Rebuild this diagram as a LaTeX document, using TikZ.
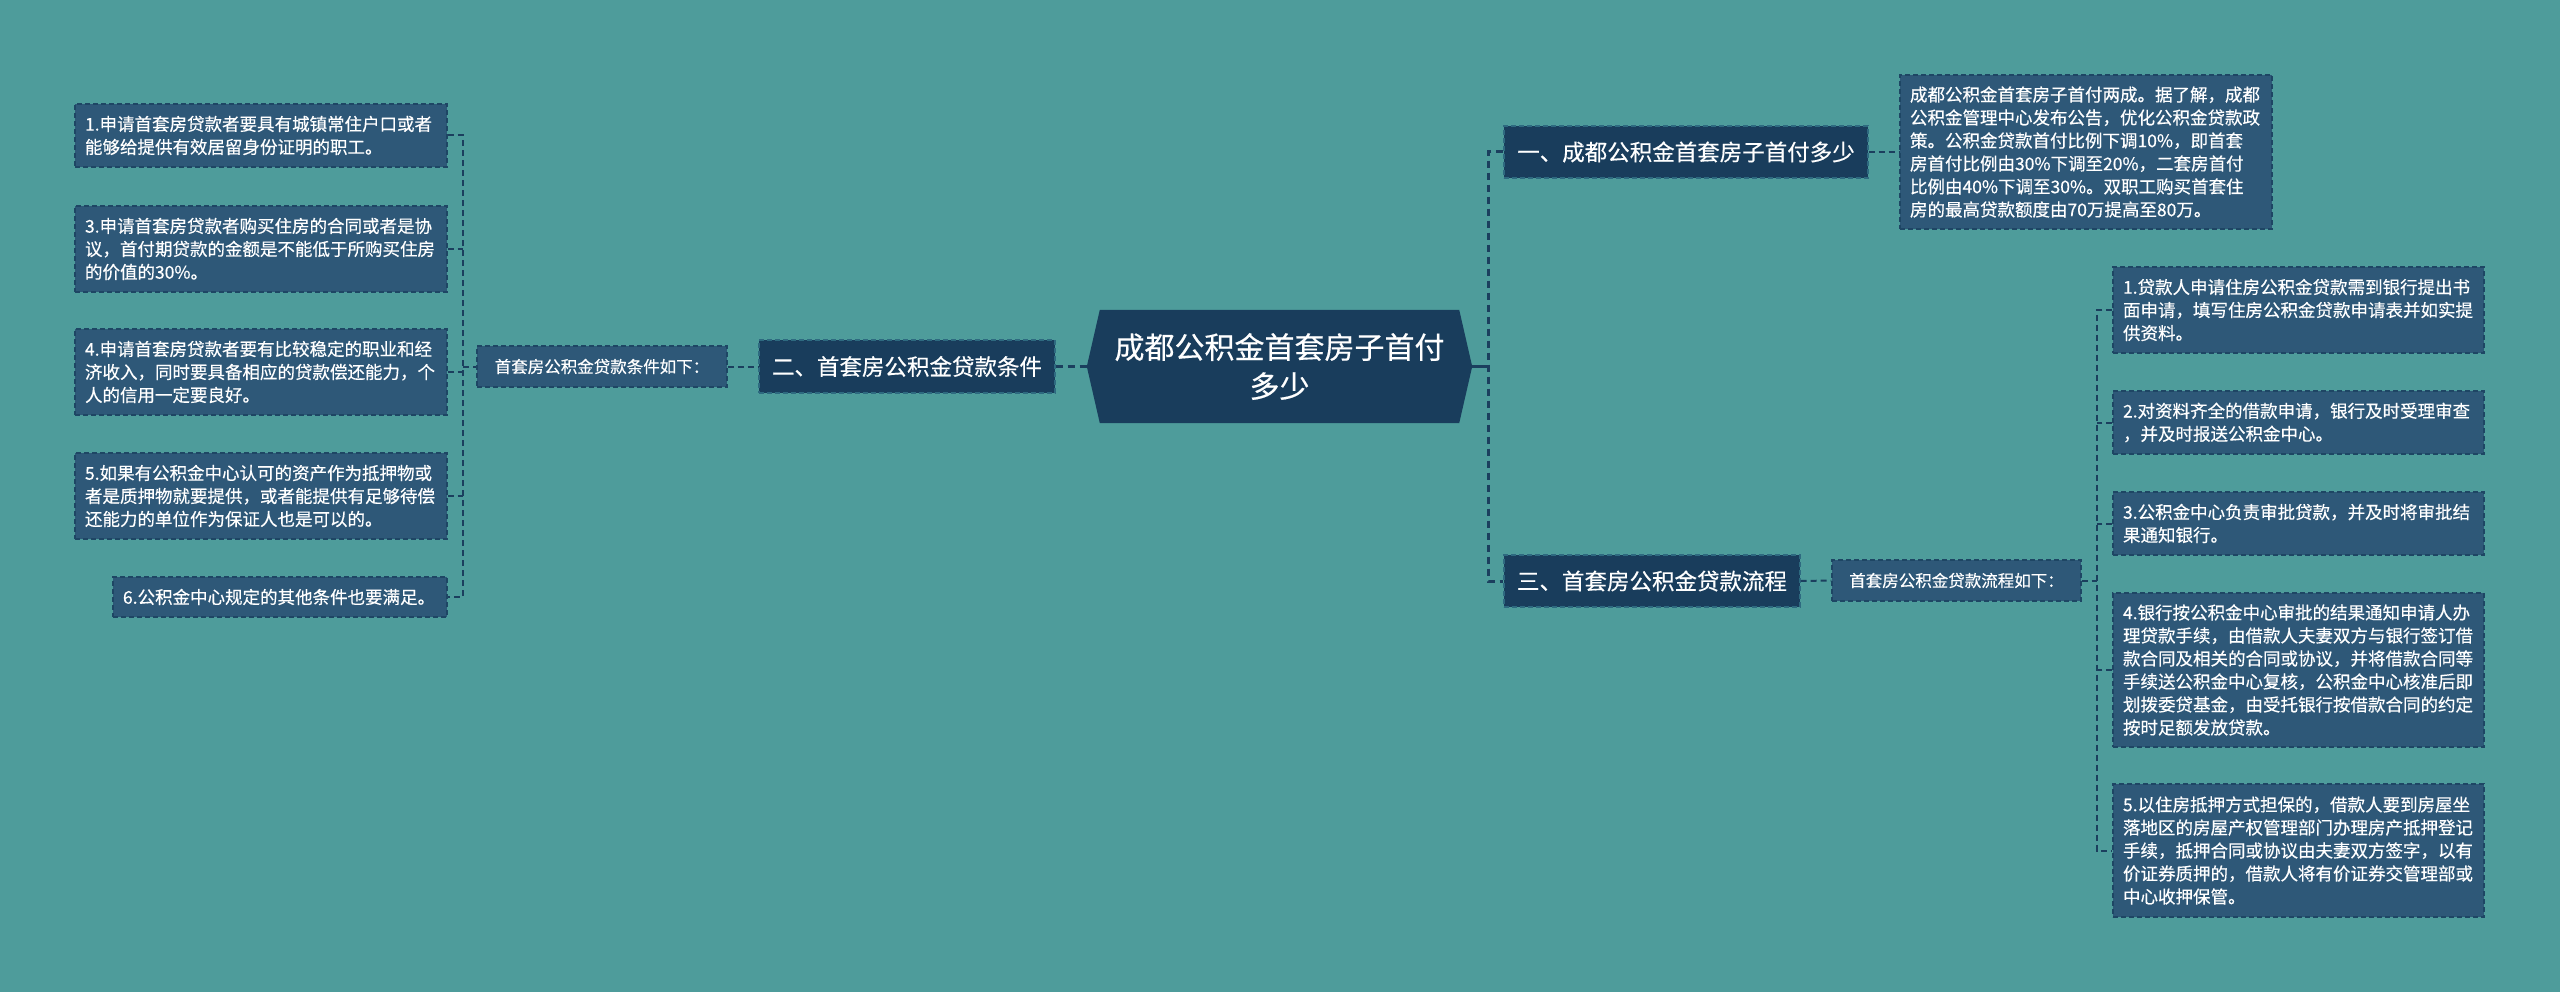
\documentclass[tikz,border=0pt]{standalone}
\usepackage{fontspec}
\newfontfamily\cjk[FakeBold=0.4]{Noto Sans CJK SC}
\usetikzlibrary{backgrounds}
\definecolor{bgc}{HTML}{4E9C9B}
\definecolor{darkc}{HTML}{193D5C}
\definecolor{boxc}{HTML}{2E5878}
\definecolor{linec}{HTML}{1B3F5E}
\definecolor{bordc}{HTML}{1E4664}
\definecolor{bordh}{HTML}{2E6A80}
\begin{document}
\begin{tikzpicture}[x=1pt,y=-1pt,
  content/.style={font=\cjk\fontsize{17.5}{23}\selectfont, text=white, fill=boxc, draw=bordc,
    line width=1.3pt, dash pattern=on 5pt off 3pt, inner xsep=10pt, inner ysep=0pt, align=left},
  head/.style={font=\cjk\fontsize{22.5}{27}\selectfont, text=white, fill=darkc, draw=bordh,
    line width=1.3pt, dash pattern=on 5pt off 3pt, inner sep=0pt, align=center},
  subh/.style={font=\cjk\fontsize{16.5}{20}\selectfont, text=white, fill=boxc, draw=bordc,
    line width=1.3pt, dash pattern=on 5pt off 3pt, inner sep=0pt, align=center},
  conn/.style={draw=linec, line width=2pt, dash pattern=on 6pt off 4pt},
  mainconn/.style={draw=linec, line width=3pt, dash pattern=on 7pt off 5pt},
]
\useasboundingbox (0,0) rectangle (2560,992);
\begin{scope}[on background layer]
\fill[bgc] (0,0) rectangle (2560,992);
\end{scope}

% centre
\node[font=\cjk\fontsize{30}{39}\selectfont, text=white, minimum width=385pt, minimum height=113pt,
  inner sep=0pt, align=center] (C) at (1279.5,366.5) {成都公积金首套房子首付\\多少};
\begin{scope}[on background layer]
\fill[darkc] ([xshift=13pt]C.north west) -- ([xshift=-13pt]C.north east) -- (C.east)
  -- ([xshift=-13pt]C.south east) -- ([xshift=13pt]C.south west) -- (C.west) -- cycle;
\end{scope}

% left branch
\node[head, minimum width=296pt, minimum height=53pt] (B2) at (907,366.5) {二、首套房公积金贷款条件};
\node[subh, minimum width=250pt, minimum height=41pt] (Lc) at (602,366.5) {首套房公积金贷款条件如下：};

\node[content, text width=352pt, minimum height=63pt] (L1) at (261,135.5)
  {1.申请首套房贷款者要具有城镇常住户口或者\\能够给提供有效居留身份证明的职工。};
\node[content, text width=352pt, minimum height=86pt] (L3) at (261,249)
  {3.申请首套房贷款者购买住房的合同或者是协\\议，首付期贷款的金额是不能低于所购买住房\\的价值的30\%。};
\node[content, text width=352pt, minimum height=86pt] (L4) at (261,372)
  {4.申请首套房贷款者要有比较稳定的职业和经\\济收入，同时要具备相应的贷款偿还能力，个\\人的信用一定要良好。};
\node[content, text width=352pt, minimum height=86pt] (L5) at (261,496)
  {5.如果有公积金中心认可的资产作为抵押物或\\者是质押物就要提供，或者能提供有足够待偿\\还能力的单位作为保证人也是可以的。};
\node[content, text width=314pt, minimum height=40pt] (L6) at (280,597)
  {6.公积金中心规定的其他条件也要满足。};

% right branch 1
\node[head, minimum width=364pt, minimum height=52pt] (B1) at (1686,152) {一、成都公积金首套房子首付多少};
\node[content, text width=352pt, minimum height=154pt] (T1) at (2086,152)
  {成都公积金首套房子首付两成。据了解，成都\\公积金管理中心发布公告，优化公积金贷款政\\策。公积金贷款首付比例下调10\%，即首套\\房首付比例由30\%下调至20\%，二套房首付\\比例由40\%下调至30\%。双职工购买首套住\\房的最高贷款额度由70万提高至80万。};

% right branch 3
\node[head, minimum width=296pt, minimum height=52pt] (B3) at (1652,581) {三、首套房公积金贷款流程};
\node[subh, minimum width=249pt, minimum height=41pt] (P) at (1956.5,580.5) {首套房公积金贷款流程如下：};

\node[content, text width=351pt, minimum height=86pt] (R1) at (2298.5,310)
  {1.贷款人申请住房公积金贷款需到银行提出书\\面申请，填写住房公积金贷款申请表并如实提\\供资料。};
\node[content, text width=351pt, minimum height=63pt] (R2) at (2298.5,422.5)
  {2.对资料齐全的借款申请，银行及时受理审查\\，并及时报送公积金中心。};
\node[content, text width=351pt, minimum height=63pt] (R3) at (2298.5,523.5)
  {3.公积金中心负责审批贷款，并及时将审批结\\果通知银行。};
\node[content, text width=351pt, minimum height=154pt] (R4) at (2298.5,670)
  {4.银行按公积金中心审批的结果通知申请人办\\理贷款手续，由借款人夫妻双方与银行签订借\\款合同及相关的合同或协议，并将借款合同等\\手续送公积金中心复核，公积金中心核准后即\\划拨委贷基金，由受托银行按借款合同的约定\\按时足额发放贷款。};
\node[content, text width=351pt, minimum height=133pt] (R5) at (2298.5,850.5)
  {5.以住房抵押方式担保的，借款人要到房屋坐\\落地区的房屋产权管理部门办理房产抵押登记\\手续，抵押合同或协议由夫妻双方签字，以有\\价证券质押的，借款人将有价证券交管理部或\\中心收押保管。};

% connectors
\coordinate (lt) at (463,366.5);
\coordinate (rt) at (1488,366.5);
\coordinate (rt2) at (2097,580.5);

\draw[conn] (L1.east) -- (L1.east -| lt) -- (L6.east -| lt) -- (L6.east);
\draw[conn] (L3.east) -- (L3.east -| lt);
\draw[conn] (L4.east) -- (L4.east -| lt);
\draw[conn] (L5.east) -- (L5.east -| lt);
\draw[conn] (Lc.west -| lt) -- (Lc.west);
\draw[conn] (Lc.east) -- (B2.west);
\draw[mainconn] (B2.east) -- (C.west);

\draw[draw=linec, line width=3pt] (C.east) -- (rt);
\draw[mainconn] (B1.west) -- (B1.west -| rt) -- (B3.west -| rt) -- (B3.west);
\draw[conn] (B1.east) -- (T1.west);
\draw[conn] (B3.east) -- (P.west);
\draw[conn] (P.east) -- (rt2);
\draw[conn] (R1.west) -- (R1.west -| rt2) -- (R5.west -| rt2) -- (R5.west);
\draw[conn] (R2.west) -- (R2.west -| rt2);
\draw[conn] (R3.west) -- (R3.west -| rt2);
\draw[conn] (R4.west) -- (R4.west -| rt2);
\end{tikzpicture}
\end{document}
